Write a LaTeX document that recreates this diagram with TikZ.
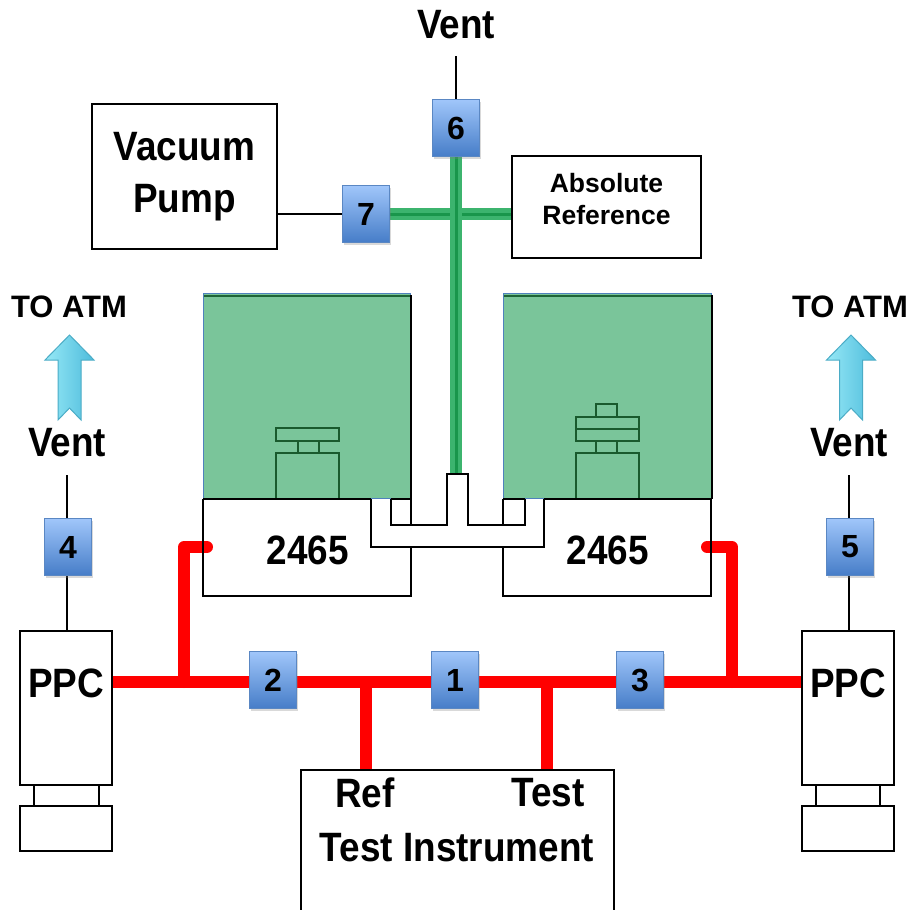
\documentclass[tikz,border=0pt]{standalone}
\usepackage{fontspec}
\setmainfont{Liberation Sans}
\usetikzlibrary{shadows}
\definecolor{gbox}{RGB}{122,197,154}
\definecolor{gborder}{RGB}{79,129,189}
\definecolor{dkgreen}{RGB}{30,100,55}
\definecolor{pistonc}{RGB}{25,90,45}
\definecolor{valvetop}{RGB}{160,198,250}
\definecolor{valvebot}{RGB}{70,125,200}
\definecolor{valveborder}{RGB}{90,135,195}
\definecolor{gpipe}{RGB}{60,180,110}
\definecolor{gpipedark}{RGB}{25,150,75}
\definecolor{arrL}{RGB}{150,232,246}
\definecolor{arrR}{RGB}{78,188,220}
\definecolor{arrB}{RGB}{75,172,198}
\newcommand\nrw[1]{\scalebox{0.9}[1]{#1}}
\pgfdeclarelayer{bg}
\pgfsetlayers{bg,main}
\begin{document}
\begin{tikzpicture}[x=1pt,y=-1pt,
  valve/.style={draw=valveborder, line width=0.8pt, top color=valvetop, bottom color=valvebot,
    minimum width=47pt, minimum height=57pt, inner sep=0pt,
    font=\fontsize{32}{32}\selectfont\bfseries,
    drop shadow={shadow xshift=1.5pt,shadow yshift=-2pt,opacity=0.3}},
  box/.style={draw=black, line width=2pt, fill=white, inner sep=0pt},
  lbl/.style={font=\fontsize{41}{41}\selectfont\bfseries, inner sep=0pt},
  atm/.style={font=\fontsize{31}{31}\selectfont\bfseries, inner sep=0pt},
  thinline/.style={draw=black, line width=1.5pt},
  outline/.style={draw=black, line width=2pt},
  piston/.style={draw=pistonc, line width=1.6pt},
  redpipe/.style={draw=red, line width=12pt, line cap=round, line join=round},
  redmain/.style={draw=red, line width=12pt, line cap=butt},
  greenpipe/.style={draw=gpipe, line width=12pt, postaction={draw=gpipedark, line width=3pt}},
  ventarrow/.style={left color=arrL, right color=arrR, draw=arrB, line width=1pt}
]
\useasboundingbox (0,0) rectangle (909,910);
\clip (0,0) rectangle (909,910);

% ---------- top: vent, valves 6 & 7, pump, absolute reference
\node[lbl] (venttop) at (456,25) {\nrw{Vent}};
\coordinate (ventend6) at (456,56);
\node[valve] (v6) at (456,128) {6};
\node[valve] (v7) at (366,214) {7};
\node[box, minimum width=185pt, minimum height=145pt, align=center,
      font=\fontsize{41}{52}\selectfont\bfseries] (pump) at (184.5,176.5) {\nrw{Vacuum}\\\nrw{Pump}};
\node[box, minimum width=189pt, minimum height=102pt] (absref) at (606.5,207) {};
\node[align=center, inner sep=0pt, font=\fontsize{26.5}{32}\selectfont\bfseries] (absreft) at (606.5,199) {Absolute\\Reference};
\coordinate (gtop) at (456,474);

\draw[thinline] (ventend6) -- (v6.north);
\draw[thinline] (pump.east |- v7.west) -- (v7.west);
\begin{pgfonlayer}{bg}
\draw[greenpipe] (v7.east) -- (v7.east -| absref.west);
\draw[greenpipe] (v6.south) -- (gtop);
\end{pgfonlayer}

% ---------- dead weight testers (green chambers)
\draw[fill=gbox, draw=gborder, line width=1pt] (203,293) rectangle (410,498);
\draw[dkgreen, line width=2pt] (204,296) -- (410,296);
\draw[black, line width=1.5pt] (411,295) -- (411,499);
\draw[fill=gbox, draw=gborder, line width=1pt] (503,293) rectangle (711,498);
\draw[dkgreen, line width=2pt] (504,296) -- (711,296);
\draw[black, line width=1.5pt] (712,295) -- (712,499);

% pistons
\draw[piston] (276,499) -- (276,453) -- (339,453) -- (339,499);
\draw[piston] (298,453) -- (298,441) (319,441) -- (319,453);
\draw[piston] (276,428) rectangle (339,441);
\draw[piston] (576,499) -- (576,453) -- (639,453) -- (639,499);
\draw[piston] (596,453) -- (596,441) (617,441) -- (617,453);
\draw[piston] (576,417) rectangle (639,441);
\draw[piston] (576,429) -- (639,429);
\draw[piston] (596,417) rectangle (617,404);

% 2465 bases and manifold
\draw[outline] (203,499) -- (203,596) -- (411,596) -- (411,547);
\draw[outline] (503,547) -- (503,596) -- (711,596) -- (711,499);
\draw[outline] (371,499) -- (371,547) -- (544,547) -- (544,499);
\draw[outline] (203,499) -- (371,499) (391,499) -- (411,499) (503,499) -- (525,499) (544,499) -- (711,499);
\draw[outline] (391,499) -- (391,525) -- (447,525) -- (447,474) -- (468,474) -- (468,525) -- (525,525) -- (525,499);
\draw[outline] (411,499) -- (411,525) (503,499) -- (503,525);
\node[lbl] (dwL) at (308,550) {\nrw{2465}};
\node[lbl] (dwR) at (608,550) {\nrw{2465}};

% ---------- PPC controllers
\node[box, minimum width=92pt, minimum height=154pt] (ppcL) at (66,708) {};
\node[lbl] (ppcLt) at (66,683) {\nrw{PPC}};
\draw[outline] (34,785) rectangle (99,806);
\draw[outline] (20,806) rectangle (112,851);
\node[box, minimum width=92pt, minimum height=154pt] (ppcR) at (848,708) {};
\node[lbl] (ppcRt) at (848,683) {\nrw{PPC}};
\draw[outline] (816,785) rectangle (880,806);
\draw[outline] (802,806) rectangle (894,851);

% vents 4 and 5
\coordinate (ventend4) at (67,475);
\coordinate (ventend5) at (849,475);
\draw[thinline] (ppcL.north -| ventend4) -- (ventend4);
\draw[thinline] (ppcR.north -| ventend5) -- (ventend5);
\node[valve] (v4) at (68,547) {4};
\node[valve] (v5) at (850,547) {5};
\node[lbl] (vent4) at (67,443) {\nrw{Vent}};
\node[lbl] (vent5) at (849,443) {\nrw{Vent}};
\node[atm] (atmL) at (69,307) {TO ATM};
\node[atm] (atmR) at (850,307) {TO ATM};
\shadedraw[ventarrow] (58,420) -- (58,360) -- (45,360) -- (69.5,335) -- (94,360) -- (81,360) -- (81,420) -- (69.5,408) -- cycle;
\shadedraw[ventarrow] (839.5,420) -- (839.5,360) -- (826.5,360) -- (851,335) -- (875.5,360) -- (862.5,360) -- (862.5,420) -- (851,408) -- cycle;

% ---------- test instrument
\node[box, minimum width=313pt, minimum height=200pt, anchor=north] (ti) at (457.5,769) {};
\node[lbl] (tiref) at (365,793) {\nrw{Ref}};
\node[lbl] (titest) at (548,793) {\nrw{Test}};
\node[lbl] (tiname) at (457,848) {\nrw{Test Instrument}};

% ---------- red pressure lines
\coordinate (jL) at (184,682);
\coordinate (jR) at (732,682);
\coordinate (jref) at (366,682);
\coordinate (jtest) at (547,682);
\coordinate (stubL) at (207,547);
\coordinate (cornL) at (184,547);
\coordinate (stubR) at (707,547);
\coordinate (cornR) at (732,547);
\begin{pgfonlayer}{bg}
\draw[redmain] (ppcL.east |- jL) -- (ppcR.west |- jR);
\draw[redpipe] (stubL) -- (cornL) -- (jL);
\draw[redpipe] (stubR) -- (cornR) -- (jR);
\draw[redmain] (jref) -- (jref |- ti.north);
\draw[redmain] (jtest) -- (jtest |- ti.north);
\end{pgfonlayer}
\node[valve] (v2) at (273,680) {2};
\node[valve] (v1) at (455,680) {1};
\node[valve] (v3) at (640,680) {3};
\end{tikzpicture}
\end{document}
